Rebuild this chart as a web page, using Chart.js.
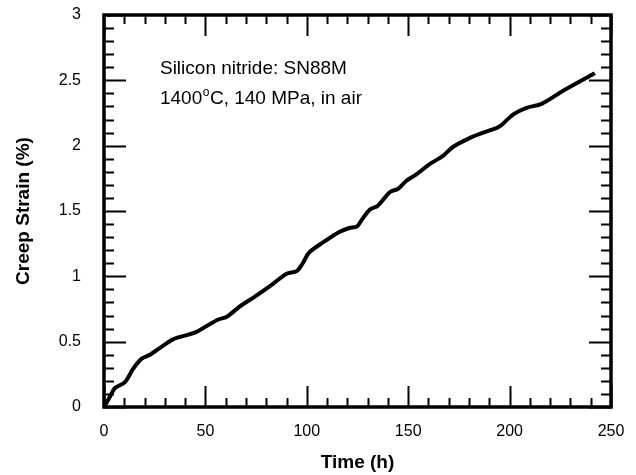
<!DOCTYPE html>
<html>
<head>
<meta charset="utf-8">
<script src="https://cdn.jsdelivr.net/npm/chart.js@4.4.0/dist/chart.umd.min.js"></script>
<style>
  body { margin: 0; background: #fff; }
</style>
</head>
<body>
<canvas id="creep_chart" width="636" height="475"></canvas>
<script>
const FONT = "'Liberation Sans', Arial, sans-serif"

// data
const timeH = [0, 3, 5.4, 10.3, 14.5, 18.6, 22.7, 29.2, 34.2, 40.7, 45.7, 50.6, 56.4, 60.5, 67, 75.3, 83.5, 90, 95, 98, 101,
               108, 116, 121, 124.6, 127, 131, 135, 141, 145, 149, 154, 160.7, 167, 172, 180.5, 187, 191, 195.3, 201.8,
               208.4, 215.8, 226.4, 240.4, 242]
const strain = [0, 0.08, 0.145, 0.19, 0.295, 0.37, 0.40, 0.47, 0.52, 0.55, 0.575, 0.62, 0.67, 0.69, 0.77, 0.855, 0.945, 1.02, 1.04, 1.10, 1.18,
                1.26, 1.34, 1.37, 1.38, 1.43, 1.51, 1.54, 1.645, 1.67, 1.73, 1.78, 1.86, 1.92, 1.99, 2.06, 2.10, 2.12, 2.15, 2.24,
                2.29, 2.32, 2.42, 2.54, 2.555]
const xLabels = [0, 50, 100, 150, 200, 250]
const yLabels = [0, 0.5, 1, 1.5, 2, 2.5, 3]
const noteLine1 = 'Silicon nitride: SN88M'
const noteLine2 = ['1400', 'o', 'C, 140 MPa, in air']

const points = timeH.map((t, i) => ({x: t, y: strain[i]}))

function isLabel(list, v) {
    return list.some(l => Math.abs(l - v) < 1e-6)
}

/*========================== frame, ticks, note =============================*/
const framePlugin = {
    id: 'frame',
    afterDraw(chart) {
        const ctx = chart.ctx
        const a = chart.chartArea
        const xs = chart.scales.x, ys = chart.scales.y
        ctx.save()
        ctx.strokeStyle = '#000'
        ctx.lineWidth = 2
        ctx.beginPath()
        xs.ticks.forEach(t => {
            const px = Math.round(xs.getPixelForValue(t.value)) + 0.5
            const len = isLabel(xLabels, t.value) ? 21 : 9
            ctx.moveTo(px, a.bottom); ctx.lineTo(px, a.bottom - len)
            ctx.moveTo(px, a.top); ctx.lineTo(px, a.top + len)
        })
        ys.ticks.forEach(t => {
            const py = Math.round(ys.getPixelForValue(t.value)) + 0.5
            const len = isLabel(yLabels, t.value) ? 22 : 10
            ctx.moveTo(a.left, py); ctx.lineTo(a.left + len, py)
            ctx.moveTo(a.right, py); ctx.lineTo(a.right - len, py)
        })
        ctx.stroke()
        ctx.lineWidth = 3.5
        ctx.strokeRect(a.left, a.top, a.right - a.left, a.bottom - a.top)

        // note text
        ctx.fillStyle = '#000'
        ctx.textBaseline = 'alphabetic'
        ctx.textAlign = 'left'
        const nx = xs.getPixelForValue(27.6)
        ctx.font = '19px ' + FONT
        ctx.fillText(noteLine1, nx, ys.getPixelForValue(2.55))
        let y2 = ys.getPixelForValue(2.32)
        let cx = nx
        ctx.fillText(noteLine2[0], cx, y2)
        cx += ctx.measureText(noteLine2[0]).width + 0.5
        ctx.font = '12px ' + FONT
        ctx.fillText(noteLine2[1], cx, y2 - 8)
        cx += ctx.measureText(noteLine2[1]).width + 0.5
        ctx.font = '19px ' + FONT
        ctx.fillText(noteLine2[2], cx, y2)
        ctx.restore()
    }
}

/*========================== Chart =============================*/
const configCreep = {
    type: 'line',
    data: {
        datasets: [{
            data: points,
            borderColor: '#000',
            borderWidth: 4,
            pointRadius: 0,
            tension: 0.3,
            fill: false
        }]
    },
    options: {
        responsive: false,
        animation: false,
        devicePixelRatio: 1,
        layout: { padding: { left: 0, right: 25, top: 15, bottom: 0 } },
        plugins: { legend: { display: false }, tooltip: { enabled: false } },
        scales: {
            x: {
                type: 'linear',
                min: 0, max: 250,
                grid: { display: false },
                border: { display: false },
                ticks: {
                    stepSize: 10,
                    autoSkip: false,
                    maxRotation: 0,
                    padding: 7,
                    color: '#000',
                    font: { family: FONT, size: 16 },
                    callback: v => isLabel(xLabels, v) ? String(Math.round(v)) : ''
                },
                title: {
                    display: true,
                    text: 'Time (h)',
                    color: '#000',
                    font: { family: FONT, size: 19, weight: 'bold' },
                    padding: { top: 0, bottom: 1 }
                },
                afterFit: s => { s.height = 68; s.paddingLeft = 0; s.paddingRight = 0 }
            },
            y: {
                min: 0, max: 3,
                grid: { display: false },
                border: { display: false },
                ticks: {
                    stepSize: 0.1,
                    autoSkip: false,
                    padding: 15,
                    color: '#000',
                    font: { family: FONT, size: 16 },
                    callback: v => isLabel(yLabels, v) ? String(Math.round(v * 10) / 10) : ''
                },
                title: {
                    display: true,
                    text: 'Creep Strain (%)',
                    color: '#000',
                    font: { family: FONT, size: 19, weight: 'bold' },
                    padding: { top: 12, bottom: 0 }
                },
                afterFit: s => { s.width = 104; s.paddingTop = 0; s.paddingBottom = 0 }
            }
        }
    },
    plugins: [framePlugin]
}

const creepChart = new Chart(document.getElementById('creep_chart'), configCreep)
</script>
</body>
</html>
